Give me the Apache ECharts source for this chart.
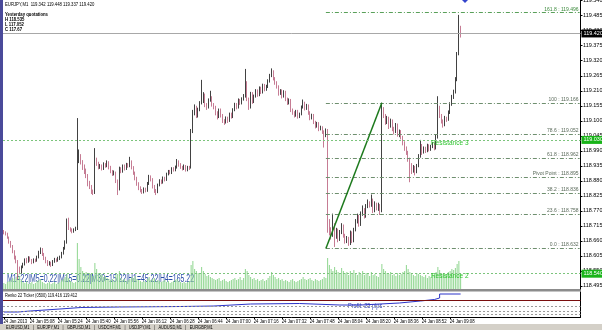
<!DOCTYPE html>
<html><head><meta charset="utf-8">
<script src="https://cdn.jsdelivr.net/npm/echarts@6/dist/echarts.min.js"></script>
<style>html,body{margin:0;padding:0;background:#fff}#c{width:602px;height:330px}</style>
</head><body><div id="c"></div><script>
// ---------- data ----------
const opens = [118.695,118.690,118.686,118.672,118.655,118.640,118.622,118.600,118.585,118.560,
118.545,118.565,118.575,118.590,118.585,118.598,118.590,118.582,118.590,118.588,
118.600,118.618,118.630,118.612,118.598,118.585,118.575,118.580,118.572,118.585,
118.592,118.588,118.596,118.600,118.615,118.632,118.655,118.735,118.705,118.702,
118.695,118.700,118.705,118.955,118.970,118.950,118.930,118.920,118.900,118.870,
118.860,118.840,118.835,118.955,118.945,118.930,118.935,118.925,118.940,118.935,
118.948,118.930,118.915,118.905,118.910,118.880,118.850,118.925,118.915,118.935,
118.925,118.940,118.935,118.950,118.930,118.910,118.890,118.870,118.855,118.845,
118.840,118.850,118.845,118.870,118.895,118.885,118.860,118.845,118.840,118.865,
118.880,118.875,118.890,118.885,118.905,118.915,118.910,118.925,118.920,118.930,
118.950,118.940,118.930,118.925,118.935,118.920,118.930,118.928,119.060,119.130,
119.150,119.120,119.140,119.165,119.170,119.195,119.160,119.150,119.175,119.185,
119.160,119.150,119.130,119.115,119.140,119.120,119.100,119.095,119.110,119.100,
119.125,119.115,119.140,119.160,119.150,119.175,119.165,119.180,119.190,119.240,
119.180,119.150,119.200,119.170,119.190,119.210,119.195,119.220,119.205,119.230,
119.215,119.225,119.245,119.265,119.280,119.255,119.240,119.225,119.200,119.210,
119.190,119.205,119.180,119.165,119.175,119.140,119.130,119.120,119.135,119.115,
119.125,119.150,119.165,119.145,119.155,119.130,119.110,119.120,119.095,119.080,
119.090,119.070,119.075,119.060,119.045,119.065,118.720,118.700,118.680,118.720,
118.675,118.700,118.665,118.690,118.715,118.680,118.660,118.670,118.650,118.690,
118.660,118.700,118.730,118.750,118.720,118.760,118.775,118.750,118.785,118.800,
118.790,118.810,118.770,118.795,118.780,118.790,118.770,119.140,119.120,119.095,
119.110,119.080,119.100,119.070,119.060,119.085,119.050,119.060,119.040,119.020,
119.000,118.985,118.960,118.940,118.920,118.930,118.915,118.935,118.970,119.010,
118.985,119.000,118.990,119.010,118.995,119.005,119.015,119.000,119.040,119.150,
119.120,119.100,119.085,119.110,119.105,119.130,119.160,119.185,119.205,119.250,
119.345,119.440];
const closes = [118.690,118.686,118.672,118.655,118.640,118.622,118.600,118.585,118.560,118.545,
118.565,118.575,118.590,118.585,118.598,118.590,118.582,118.590,118.588,118.600,
118.618,118.630,118.612,118.598,118.585,118.575,118.580,118.572,118.585,118.592,
118.588,118.596,118.600,118.615,118.632,118.655,118.735,118.705,118.702,118.695,
118.700,118.705,118.955,118.970,118.950,118.930,118.920,118.900,118.870,118.860,
118.840,118.835,118.955,118.945,118.930,118.935,118.925,118.940,118.935,118.948,
118.930,118.915,118.905,118.910,118.880,118.850,118.925,118.915,118.935,118.925,
118.940,118.935,118.950,118.930,118.910,118.890,118.870,118.855,118.845,118.840,
118.850,118.845,118.870,118.895,118.885,118.860,118.845,118.840,118.865,118.880,
118.875,118.890,118.885,118.905,118.915,118.910,118.925,118.920,118.930,118.950,
118.940,118.930,118.925,118.935,118.920,118.930,118.928,119.060,119.130,119.150,
119.120,119.140,119.165,119.170,119.195,119.160,119.150,119.175,119.185,119.160,
119.150,119.130,119.115,119.140,119.120,119.100,119.095,119.110,119.100,119.125,
119.115,119.140,119.160,119.150,119.175,119.165,119.180,119.190,119.240,119.180,
119.150,119.200,119.170,119.190,119.210,119.195,119.220,119.205,119.230,119.215,
119.225,119.245,119.265,119.280,119.255,119.240,119.225,119.200,119.210,119.190,
119.205,119.180,119.165,119.175,119.140,119.130,119.120,119.135,119.115,119.125,
119.150,119.165,119.145,119.155,119.130,119.110,119.120,119.095,119.080,119.090,
119.070,119.075,119.060,119.045,119.065,118.720,118.700,118.680,118.720,118.675,
118.700,118.665,118.690,118.715,118.680,118.660,118.670,118.650,118.690,118.660,
118.700,118.730,118.750,118.720,118.760,118.775,118.750,118.785,118.800,118.790,
118.810,118.770,118.795,118.780,118.790,118.770,119.140,119.120,119.095,119.110,
119.080,119.100,119.070,119.060,119.085,119.050,119.060,119.040,119.020,119.000,
118.985,118.960,118.940,118.920,118.930,118.915,118.935,118.970,119.010,118.985,
119.000,118.990,119.010,118.995,119.005,119.015,119.000,119.040,119.150,119.120,
119.100,119.085,119.110,119.105,119.130,119.160,119.185,119.205,119.250,119.345,
119.440,119.420];
const highs = [118.700,118.695,118.690,118.676,118.660,118.645,118.626,118.606,118.590,118.566,
118.570,118.580,118.596,118.598,118.604,118.603,118.594,118.596,118.595,118.606,
118.624,118.636,118.634,118.616,118.602,118.590,118.586,118.584,118.590,118.598,
118.596,118.602,118.606,118.620,118.638,118.662,118.742,118.745,118.710,118.706,
118.706,118.712,119.110,118.995,118.978,118.956,118.940,118.925,118.905,118.880,
118.865,118.848,119.000,118.965,118.950,118.942,118.940,118.948,118.945,118.955,
118.952,118.935,118.920,118.918,118.914,118.885,118.932,118.930,118.940,118.940,
118.946,118.945,118.968,118.955,118.934,118.914,118.895,118.875,118.860,118.850,
118.856,118.855,118.876,118.902,118.900,118.890,118.865,118.850,118.870,118.886,
118.885,118.896,118.895,118.910,118.920,118.920,118.930,118.930,118.936,118.960,
118.955,118.945,118.935,118.940,118.938,118.935,118.935,119.070,119.140,119.160,
119.155,119.148,119.172,119.250,119.205,119.200,119.165,119.182,119.210,119.190,
119.165,119.155,119.135,119.145,119.145,119.125,119.106,119.116,119.115,119.130,
119.130,119.146,119.166,119.165,119.182,119.180,119.186,119.198,119.290,119.245,
119.185,119.206,119.205,119.196,119.216,119.215,119.226,119.225,119.236,119.235,
119.232,119.252,119.272,119.292,119.285,119.260,119.245,119.230,119.216,119.215,
119.212,119.210,119.185,119.182,119.180,119.145,119.135,119.140,119.140,119.130,
119.156,119.178,119.170,119.162,119.160,119.135,119.126,119.125,119.100,119.096,
119.095,119.082,119.080,119.065,119.072,119.070,118.740,118.710,118.760,118.725,
118.708,118.705,118.700,118.725,118.720,118.686,118.678,118.675,118.698,118.695,
118.708,118.740,118.760,118.755,118.768,118.790,118.780,118.795,118.812,118.805,
118.830,118.815,118.805,118.800,118.800,118.795,119.166,119.150,119.125,119.118,
119.115,119.108,119.105,119.078,119.092,119.090,119.068,119.066,119.045,119.025,
119.006,118.990,118.965,118.945,118.938,118.935,118.942,118.978,119.030,119.015,
119.006,119.005,119.016,119.014,119.012,119.022,119.020,119.048,119.190,119.155,
119.125,119.105,119.118,119.115,119.138,119.168,119.195,119.214,119.260,119.352,
119.488,119.448];
const lows = [118.684,118.680,118.668,118.650,118.635,118.615,118.592,118.578,118.518,118.538,
118.540,118.560,118.570,118.578,118.580,118.584,118.575,118.578,118.582,118.584,
118.596,118.612,118.605,118.590,118.578,118.568,118.570,118.565,118.568,118.580,
118.582,118.584,118.590,118.596,118.610,118.628,118.650,118.700,118.694,118.688,
118.690,118.696,118.700,118.945,118.940,118.920,118.905,118.890,118.860,118.850,
118.832,118.828,118.832,118.935,118.922,118.924,118.918,118.920,118.928,118.930,
118.922,118.908,118.898,118.900,118.872,118.828,118.845,118.908,118.910,118.918,
118.920,118.928,118.930,118.922,118.902,118.882,118.862,118.846,118.838,118.832,
118.834,118.838,118.840,118.865,118.878,118.852,118.836,118.828,118.835,118.860,
118.868,118.870,118.878,118.880,118.900,118.904,118.905,118.914,118.915,118.925,
118.932,118.924,118.918,118.920,118.914,118.915,118.920,118.925,119.055,119.120,
119.110,119.112,119.135,119.160,119.165,119.150,119.140,119.145,119.170,119.152,
119.142,119.120,119.105,119.110,119.112,119.092,119.085,119.090,119.092,119.096,
119.108,119.110,119.135,119.142,119.145,119.158,119.160,119.174,119.185,119.172,
119.140,119.145,119.162,119.165,119.185,119.188,119.190,119.198,119.200,119.208,
119.210,119.220,119.240,119.260,119.248,119.232,119.218,119.192,119.195,119.182,
119.185,119.172,119.158,119.160,119.132,119.122,119.112,119.115,119.108,119.110,
119.120,119.145,119.138,119.140,119.122,119.102,119.105,119.088,119.072,119.075,
119.062,119.065,119.052,119.002,119.040,118.690,118.680,118.665,118.675,118.638,
118.668,118.655,118.660,118.685,118.672,118.650,118.652,118.642,118.645,118.652,
118.655,118.695,118.724,118.712,118.715,118.752,118.742,118.745,118.780,118.782,
118.785,118.762,118.765,118.772,118.770,118.755,118.765,119.110,119.085,119.088,
119.070,119.075,119.062,119.050,119.055,119.042,119.040,119.032,119.010,118.990,
118.975,118.950,118.875,118.905,118.910,118.900,118.908,118.930,118.965,118.975,
118.980,118.982,118.985,118.988,118.990,119.000,118.992,118.995,119.035,119.110,
119.090,119.075,119.080,119.096,119.100,119.125,119.155,119.180,119.200,119.245,
119.340,119.405];
const volumes = [12,10,14,16,18,22,20,24,30,26,18,14,12,16,10,12,14,10,12,16,
18,20,14,12,10,12,14,10,12,14,10,12,14,18,20,24,30,22,16,14,12,14,
92,60,44,36,30,34,28,32,30,26,52,40,32,28,30,24,26,22,20,
18,20,16,28,30,36,22,18,20,16,18,20,24,22,26,20,18,16,14,16,
14,20,24,18,20,22,16,18,16,14,16,18,14,16,12,14,16,18,20,16,
14,12,14,12,14,16,48,56,40,36,32,30,44,36,30,26,28,24,22,20,
18,20,22,16,18,20,16,14,16,18,20,22,18,20,24,18,22,40,36,28,
24,20,22,18,20,16,18,20,16,18,22,26,34,28,24,20,22,18,20,16,
18,16,14,18,20,16,14,16,18,20,24,20,18,20,22,18,16,20,18,16,
18,20,24,22,62,48,40,36,44,38,34,30,42,36,32,34,28,36,30,38,
32,28,34,30,36,28,32,30,26,34,28,30,26,24,30,50,40,36,32,30,
34,28,30,26,32,28,30,34,36,48,40,34,30,28,26,32,30,28,26,24,
28,22,26,24,30,28,34,44,38,32,30,28,30,34,36,40,38,42,50,56,30];
const priceTicks = [119.540,119.485,119.430,119.375,119.320,119.265,119.210,119.155,119.100,119.045,
118.990,118.935,118.880,118.825,118.770,118.715,118.660,118.605,118.550,118.495];
const xTickCats = ['04:53','05:08','05:24','05:40','05:56','06:12','06:28','06:44','07:00','07:16','07:32','07:48','08:04','08:20','08:36','08:52','09:08'];
const xTickLabels = ['24 Jan 2013','24 Jan 05:08','24 Jan 05:24','24 Jan 05:40','24 Jan 05:56','24 Jan 06:12','24 Jan 06:28','24 Jan 06:44','24 Jan 07:00','24 Jan 07:16','24 Jan 07:32','24 Jan 07:48','24 Jan 08:04','24 Jan 08:20','24 Jan 08:36','24 Jan 08:52','24 Jan 09:08'];
const fibNames = ['161.8','100','78.6','61.8','38.2','23.6','0.0'];
const fibValues = [119.496,119.166,119.052,118.962,118.836,118.758,118.632];
const pivotValue = 118.895;
const fibStartIdx = 184;
const trendStart = [184, 118.632];
const trendEnd = [216, 119.166];
const resistNames = ['Resistance 3','Resistance 2'];
const resistValues = [119.030, 118.540];
const resistLabelIdx = 244;
const bidValue = 119.420;
// sub panel (Renko ticker line): [bar index, value]
const renkoPoints = [[0,5],[8,6],[15,8],[32,9.5],[44,10],[66,10.5],[101,11],[120,13],[141,13.5],[169,12],[192,12],[204,14],[226,16],[238,17.5],[246,19],[249,23],[261,23]];
const renkoLevel = 17;
const renkoDotted = [11, 6, 3];
const totalSlots = 330;
const startMinute = 4*60+53;

// ---------- build ----------
const categories = [];
for (let i = 0; i < totalSlots; i++) {
  const m = startMinute + i;
  categories.push(String(Math.floor(m/60)).padStart(2,'0') + ':' + String(m%60).padStart(2,'0'));
}
const candleData = opens.map((o,i)=>[o, closes[i], lows[i], highs[i]]);
const lastCat = categories[totalSlots-1];
const fibColor = '#6f8f6f';
const tinyFont = 'Liberation Sans, Arial';
const markLines = [];
fibNames.forEach((n,k)=>{
  markLines.push([{coord:[categories[fibStartIdx], fibValues[k]], lineStyle:{color:k===0?'#5aa05a':fibColor,type:[4,2,1,2],width:1},
    label:{show:true,position:'insideEndTop',formatter:n+' : '+fibValues[k].toFixed(3),color:k===0?'#3c8a3c':'#5a6a5a',fontSize:5,fontFamily:tinyFont,distance:1}},
    {coord:[lastCat, fibValues[k]]}]);
});
markLines.push([{coord:[categories[fibStartIdx], pivotValue], lineStyle:{color:fibColor,type:[4,2,1,2],width:1},
  label:{show:true,position:'insideEndTop',formatter:'Pivot Point : '+pivotValue.toFixed(3),color:'#5a6a5a',fontSize:5,fontFamily:tinyFont,distance:1}},
  {coord:[lastCat, pivotValue]}]);
markLines.push([{coord:[categories[trendStart[0]], trendStart[1]], lineStyle:{color:'#1d7a1d',type:'solid',width:1.5}, label:{show:false}},
  {coord:[categories[trendEnd[0]], trendEnd[1]]}]);
resistValues.forEach((v,k)=>{
  markLines.push({yAxis:v, lineStyle:{color:'#7cc47c',type:[2,2],width:1},
    label:{show:true,position:'end',formatter:v.toFixed(3),backgroundColor:'#19b419',color:'#fff',fontSize:5.5,fontFamily:tinyFont,padding:[1,2],distance:1}});
});
markLines.push({yAxis:bidValue, lineStyle:{color:'#a8a8a8',type:'solid',width:1},
  label:{show:true,position:'end',formatter:bidValue.toFixed(3),backgroundColor:'#000',color:'#fff',fontSize:5.5,fontFamily:tinyFont,padding:[1,2],distance:1}});

const subLines = [{yAxis:renkoLevel, lineStyle:{color:'#7a0e0e',type:'solid',width:1.2}, label:{show:false}}];
renkoDotted.forEach(v=>subLines.push({yAxis:v, lineStyle:{color:'#9a9a9a',type:[2,2],width:1}, label:{show:false}}));

const chart = echarts.init(document.getElementById('c'), null, {renderer:'canvas'});
chart.setOption({
  animation:false,
  backgroundColor:'#fff',
  grid:[
    {left:3, top:0, width:577.5, height:289, containLabel:false, outerBoundsMode:'none'},
    {left:3, top:292, width:577.5, height:25, containLabel:false, outerBoundsMode:'none'}
  ],
  xAxis:[
    {type:'category', gridIndex:0, data:categories, boundaryGap:true, axisLine:{show:false}, axisTick:{show:false}, axisLabel:{show:false}, splitLine:{show:false}},
    {type:'category', gridIndex:1, data:categories, boundaryGap:true,
      axisLine:{show:true, lineStyle:{color:'#000',width:1}},
      axisTick:{show:true, length:2, alignWithLabel:true, interval:(i,v)=>xTickCats.includes(v), lineStyle:{color:'#000'}},
      axisLabel:{show:false},
      splitLine:{show:false}}
  ],
  yAxis:[
    {type:'value', gridIndex:0, position:'right', min:118.4839, max:119.5425, scale:true,
      axisLine:{show:true, lineStyle:{color:'#000'}},
      axisTick:{show:true, length:2, inside:false, customValues:priceTicks, lineStyle:{color:'#000'}},
      axisLabel:{show:true, customValues:priceTicks, formatter:(v)=>v.toFixed(3), fontSize:5.5, color:'#000', margin:2.5, fontFamily:tinyFont},
      splitLine:{show:false}},
    {type:'value', gridIndex:0, min:0, max:578, show:false},
    {type:'value', gridIndex:1, position:'right', min:0, max:25,
      axisLine:{show:true, lineStyle:{color:'#000'}}, axisTick:{show:false},
      axisLabel:{show:false}, splitLine:{show:false}}
  ],
  series:[
    {type:'bar', xAxisIndex:0, yAxisIndex:1, data:volumes, barWidth:1, itemStyle:{color:'#8fd68f'}, silent:true, z:1},
    {type:'candlestick', xAxisIndex:0, yAxisIndex:0, data:candleData, barWidth:1,
      itemStyle:{color:'#111', color0:'#b03a5e', borderColor:'#111', borderColor0:'#b85a78', borderWidth:0.8}, z:3,
      markLine:{silent:true, symbol:['none','none'], animation:false, data:markLines},
      markPoint:{silent:true, animation:false, data:resistNames.map((n,k)=>({coord:[categories[resistLabelIdx], resistValues[k]], symbol:'rect', symbolSize:[0.1,0.1], itemStyle:{color:'rgba(0,0,0,0)'},
        label:{show:true, position:'right', distance:0, offset:[0,3], formatter:n, color:'#2fc42f', fontSize:6.5, fontFamily:tinyFont}}))}
    },
    {type:'line', xAxisIndex:1, yAxisIndex:2, data:renkoPoints.map(p=>[categories[p[0]], p[1]]), symbol:'none', step:'end', lineStyle:{color:'#2b33c8', width:1}, z:3,
      markLine:{silent:true, symbol:['none','none'], data:subLines}},
    {type:'custom', xAxisIndex:1, yAxisIndex:2, silent:true, clip:false, z:5,
      data:xTickCats.map(c=>[c,0]), encode:{x:0,y:1},
      renderItem:(params, api)=>{
        const p = api.coord([api.value(0), 0]);
        return {type:'text', x:p[0]-0.5, y:p[1]+1.5, scaleX:0.72,
          style:{text:xTickLabels[params.dataIndex], font:'6px Liberation Sans', fill:'#000', textVerticalAlign:'top', textAlign:'left'}};
      }}
  ],
  graphic:[
    {type:'rect', shape:{x:0,y:0,width:3,height:324}, style:{fill:'#4a4a9a'}},
    {type:'rect', shape:{x:3,y:289,width:578,height:2.5}, style:{fill:'#8c8c8c'}},
    {type:'polygon', shape:{points:[[462,0],[468,0],[465,3]]}, style:{fill:'#3344cc'}},
    {type:'text', x:5, y:2, scaleX:0.85, style:{text:'EURJPY,M1  119.342 119.448 119.337 119.420', font:'5px Liberation Sans', fill:'#000'}},
    {type:'text', x:5, y:12, scaleX:0.85, style:{text:'Yesterday quotations', font:'bold 5px Liberation Sans', fill:'#000'}},
    {type:'text', x:5, y:17, scaleX:0.85, style:{text:'H 118.535', font:'bold 5px Liberation Sans', fill:'#000'}},
    {type:'text', x:5, y:22, scaleX:0.85, style:{text:'L 117.052', font:'bold 5px Liberation Sans', fill:'#000'}},
    {type:'text', x:5, y:27, scaleX:0.85, style:{text:'C 117.67', font:'bold 5px Liberation Sans', fill:'#000'}},
    {type:'text', x:7, y:274, scaleX:0.69, style:{text:'M1=22|M5=0.22|M15=0.22|M30=15.22|H1=45.22|H4=165.22', font:'10px Liberation Sans', fill:'#2c4fa8'}},
    {type:'text', x:5, y:293.5, scaleX:0.8, style:{text:'Renko 22 Ticker (0500) 119.416 119.412', font:'5px Liberation Sans', fill:'#000'}},
    {type:'text', x:348, y:303, scaleX:0.8, style:{text:'Profit: 25 pips', font:'7px Liberation Sans', fill:'#2c3fb0'}},
    {type:'rect', shape:{x:0,y:324,width:602,height:6}, style:{fill:'#d4d0c8'}},
    {type:'text', x:6, y:325, scaleX:0.8, style:{text:'EURUSD,M1   |   EURJPY,M1   |   GBPUSD,M1   |   USDCHF,M1   |   USDJPY,M1   |   AUDUSD,M1   |   EURGBP,M1', font:'5px Liberation Sans', fill:'#000'}}
  ]
});
</script></body></html>
